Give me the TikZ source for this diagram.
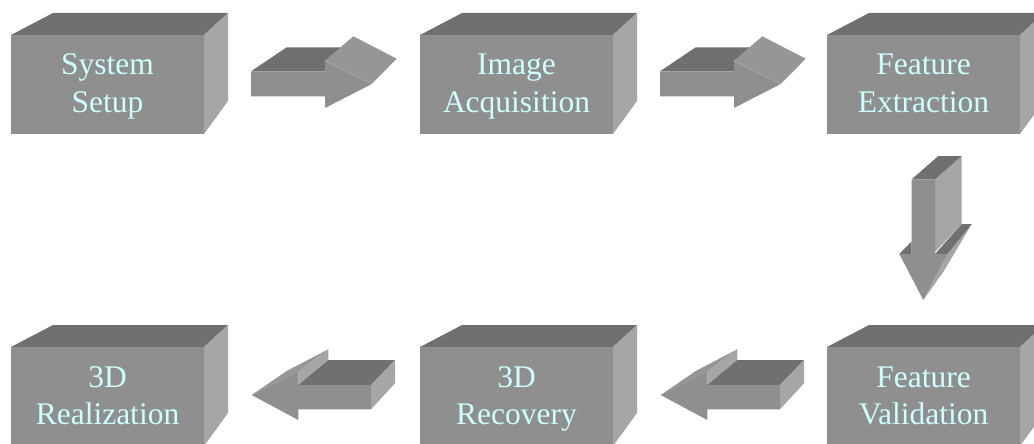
\documentclass[tikz,border=0pt]{standalone}
\usepackage{fontspec}
\setmainfont{Liberation Serif}
\definecolor{gfront}{RGB}{143,143,143}
\definecolor{gtop}{RGB}{112,112,112}
\definecolor{gside}{RGB}{166,166,166}
\definecolor{gslant}{RGB}{150,150,150}
\definecolor{gedge}{RGB}{165,165,165}
\definecolor{txtc}{RGB}{204,255,255}
\tikzset{
  facefront/.style={fill=gfront},
  facetop/.style={fill=gtop},
  faceside/.style={fill=gside},
  faceslant/.style={fill=gslant},
  boxlabel/.style={text=txtc, font=\fontsize{31.5}{37.5}\selectfont, inner sep=0pt, anchor=base},
  pics/cube/.style 2 args={code={
    \fill[facetop] (0,0) -- (42,-22) -- (217,-22) -- (193,0) -- cycle;
    \fill[faceside] (193,0) -- (217,-22) -- (217,66) -- (193,99) -- cycle;
    \fill[facefront] (0,0) rectangle (193,99);
    \node[boxlabel] (-l1) at (96.5,40) {#1};
    \node[boxlabel] (-l2) at (96.5,77.5) {#2};
  }},
  pics/rarrow/.style={code={
    \fill[facetop] (0,0) -- (35.7,-24) -- (102.3,-24) -- (74,0) -- cycle;
    \fill[faceslant] (74,-10.6) -- (102.3,-35) -- (145.7,-12.6) -- (120.7,12.7) -- cycle;
    \fill[facefront] (0,0) -- (74,0) -- (74,-10.6) -- (120.7,12.7) -- (74,36.7) -- (74,25) -- (0,25) -- cycle;
    \draw[gedge, line width=0.8pt] (74,-10.6) -- (120.7,12.7);
  }},
  pics/larrow/.style={code={
    \fill[faceslant] (-46.6,10) -- (0,-13.3) -- (30,-35.7) -- (-11.6,-14) -- cycle;
    \fill[faceside] (0,-13.3) -- (30,-35.7) -- (30,-25) -- (0,0) -- cycle;
    \fill[facetop] (0,0) -- (72.7,0) -- (96.7,-25) -- (30,-25) -- cycle;
    \fill[faceside] (72.7,0) -- (96.7,-25) -- (96.7,-1.7) -- (72.7,24.3) -- cycle;
    \fill[facefront] (0,0) -- (72.7,0) -- (72.7,24.3) -- (0,24.3) -- (0,35) -- (-46.6,10) -- (0,-13.3) -- cycle;
  }},
  pics/darrow/.style={code={
    \fill[faceside] (35.6,74.7) -- (60,44.7) -- (32,92) -- (11.6,120.7) -- cycle;
    \fill[facetop] (23.3,74.7) -- (35.6,74.7) -- (60,44.7) -- (50,44.7) -- cycle;
    \fill[facetop] (-12.4,74.7) -- (0,74.7) -- (0,62) -- cycle;
    \fill[faceside] (23.3,0) -- (50,-23.3) -- (50,44.7) -- (23.3,72.7) -- cycle;
    \fill[facetop] (0,0) -- (23.3,0) -- (50,-23.3) -- (26.6,-23.3) -- cycle;
    \fill[facefront] (0,0) -- (23.3,0) -- (23.3,74.7) -- (35.6,74.7) -- (11.6,120.7) -- (-12.4,74.7) -- (0,74.7) -- cycle;
  }},
}
\begin{document}
\begin{tikzpicture}[x=1pt,y=-1pt]
  \useasboundingbox (0,0) rectangle (1034,444);
  \clip (0,0) rectangle (1034,444);
  \fill[white] (0,0) rectangle (1034,444);
  % boxes
  \pic (b1) at (11,35) {cube={System}{Setup}};
  \pic (b2) at (420,35) {cube={Image}{Acquisition}};
  \pic (b3) at (827,35) {cube={Feature}{Extraction}};
  \pic (b4) at (827,347) {cube={Feature}{Validation}};
  \pic (b5) at (420,347) {cube={3D}{Recovery}};
  \pic (b6) at (11,347) {cube={3D}{Realization}};
  % arrows
  \pic (a1) at (251,71.3) {rarrow};
  \pic (a2) at (660,71.3) {rarrow};
  \pic (a3) at (911.7,179.3) {darrow};
  \pic (a4) at (707.3,385) {larrow};
  \pic (a5) at (298.3,385) {larrow};
\end{tikzpicture}
\end{document}
